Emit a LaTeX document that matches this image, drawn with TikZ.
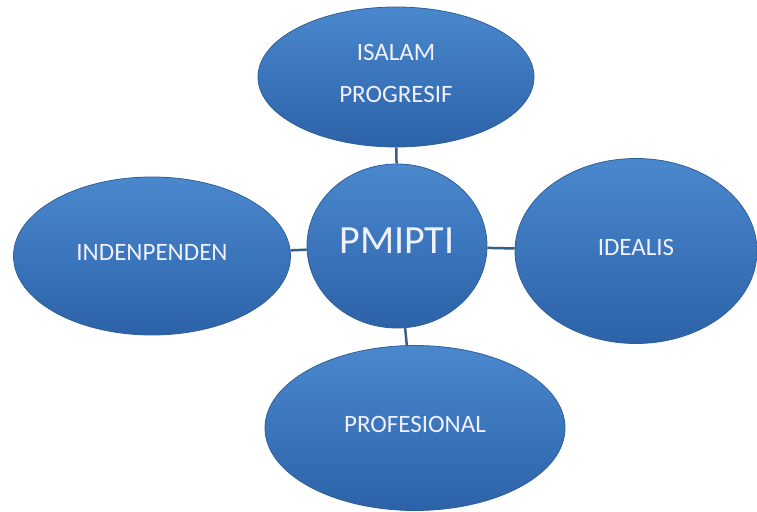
\documentclass[tikz,border=0pt]{standalone}
\usepackage{fontspec}
\setmainfont{Carlito}
\usetikzlibrary{shapes.geometric}
\definecolor{bubtop}{HTML}{4A88CE}
\definecolor{bubbot}{HTML}{2C62A8}
\definecolor{bubrim}{HTML}{2F5F98}
\definecolor{linkcol}{HTML}{365E8A}
\tikzset{
  bubble/.style={ellipse, inner sep=0pt, top color=bubtop, bottom color=bubbot,
    draw=bubrim, line width=0.8pt, text=white!94!blue,
    font=\fontsize{25}{42}\selectfont, text height=16pt, text depth=8pt},
  bubbletwo/.style={bubble, align=center, text height=, text depth=},
  hub/.style={bubble, font=\fontsize{40}{44}\selectfont, text height=26pt, text depth=12pt},
}
\begin{document}
\begin{tikzpicture}[x=1pt,y=-1pt]
            \useasboundingbox (0,0) rectangle (757,511);
            \node[hub,       minimum width=180, minimum height=164](P) at (397,246) {PMIPTI};
            \node[bubbletwo, minimum width=276, minimum height=140](S) at (396,77)  {ISALAM\\PROGRESIF\\[-34pt]};
            \node[bubble,    minimum width=277, minimum height=158](N) at (152,256) {INDENPENDEN};
            \node[bubble,    minimum width=242, minimum height=185](D) at (636,251) {IDEALIS};
            \node[bubble,    minimum width=300, minimum height=165](F) at (415,428) {PROFESIONAL};
            \path[draw=linkcol, line width=2.5pt]
                (P) edge [-] (S)
                    edge [-] (N)
                    edge [-] (D)
                    edge [-] (F)
                ;
        \end{tikzpicture}
\end{document}
